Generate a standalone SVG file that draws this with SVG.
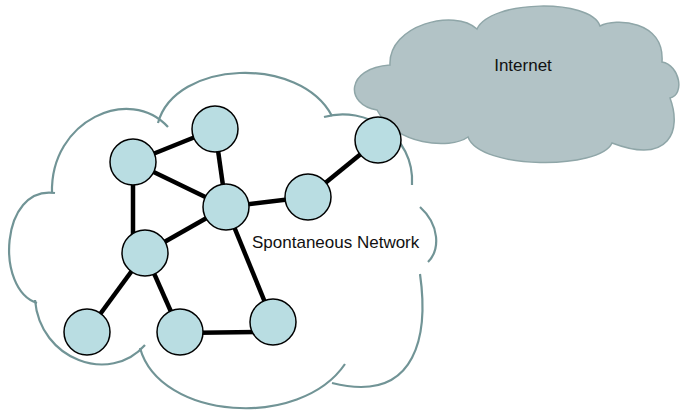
<svg xmlns="http://www.w3.org/2000/svg" width="685" height="418" viewBox="0 0 685 418">
<style>
.arc{fill:none;stroke:#719496;stroke-width:2.2;stroke-linecap:butt}
.edge{stroke:#000;stroke-width:4.5;fill:none}
.node{fill:#b9dde2;stroke:#000;stroke-width:1.5}
.lbl{font-family:"Liberation Sans",Arial,sans-serif;font-size:17px;fill:#111}
</style>
<rect width="685" height="418" fill="#fff"/>
<g id="spontaneous-cloud">
<path class="arc" d="M52,193 C50,120 130,85 168,127"/>
<path class="arc" d="M158,123 C175,60 300,55 332,116"/>
<path class="arc" d="M324,117 C365,105 415,135 412,185"/>
<path class="arc" d="M420,207 C440,225 440,250 428,262"/>
<path class="arc" d="M420,274 C428,330 420,405 332,383"/>
<path class="arc" d="M345,364 C300,430 160,420 140,348"/>
<path class="arc" d="M35,300 C40,360 110,385 145,345"/>
<path class="arc" d="M55,193 C0,185 -5,290 37,303"/>
</g>
<g id="internet">
<path d="M477,29 C490,0 590,-2 600,26 C615,18 665,20 662,62 C680,65 685,95 670,98 C682,130 670,165 612,143 C600,170 480,170 468,137 C450,150 395,145 377,110 C345,105 345,68 390,65 C388,25 455,8 477,29 Z" fill="#b2c3c6" stroke="#8fa6a8" stroke-width="1.5"/>
<text class="lbl" x="523" y="71" text-anchor="middle">Internet</text>
</g>
<g id="connectors">
<line class="edge" x1="133" y1="162" x2="215" y2="129"/>
<line class="edge" x1="133" y1="162" x2="226" y2="207"/>
<line class="edge" x1="133" y1="162" x2="133" y2="245"/>
<line class="edge" x1="215" y1="129" x2="226" y2="207"/>
<line class="edge" x1="226" y1="207" x2="308" y2="197"/>
<line class="edge" x1="226" y1="207" x2="145" y2="253"/>
<line class="edge" x1="226" y1="207" x2="273" y2="322"/>
<line class="edge" x1="308" y1="197" x2="378" y2="140"/>
<line class="edge" x1="145" y1="253" x2="87" y2="332"/>
<line class="edge" x1="145" y1="253" x2="180" y2="332"/>
<line class="edge" x1="180" y1="333" x2="262" y2="332"/>
</g>
<g id="n1"><circle class="node" cx="133" cy="162" r="23"/></g>
<g id="n2"><circle class="node" cx="215" cy="129" r="23"/></g>
<g id="n3"><circle class="node" cx="226" cy="207" r="23"/></g>
<g id="n4"><circle class="node" cx="308" cy="197" r="23"/></g>
<g id="n5"><circle class="node" cx="145" cy="253" r="23"/></g>
<g id="n6"><circle class="node" cx="87" cy="332" r="23"/></g>
<g id="n7"><circle class="node" cx="180" cy="332" r="23"/></g>
<g id="n8"><circle class="node" cx="273" cy="322" r="23"/></g>
<g id="n9"><circle class="node" cx="378" cy="140" r="23"/></g>
<g id="spontaneous-label"><text class="lbl" x="252" y="248">Spontaneous Network</text></g>
</svg>
